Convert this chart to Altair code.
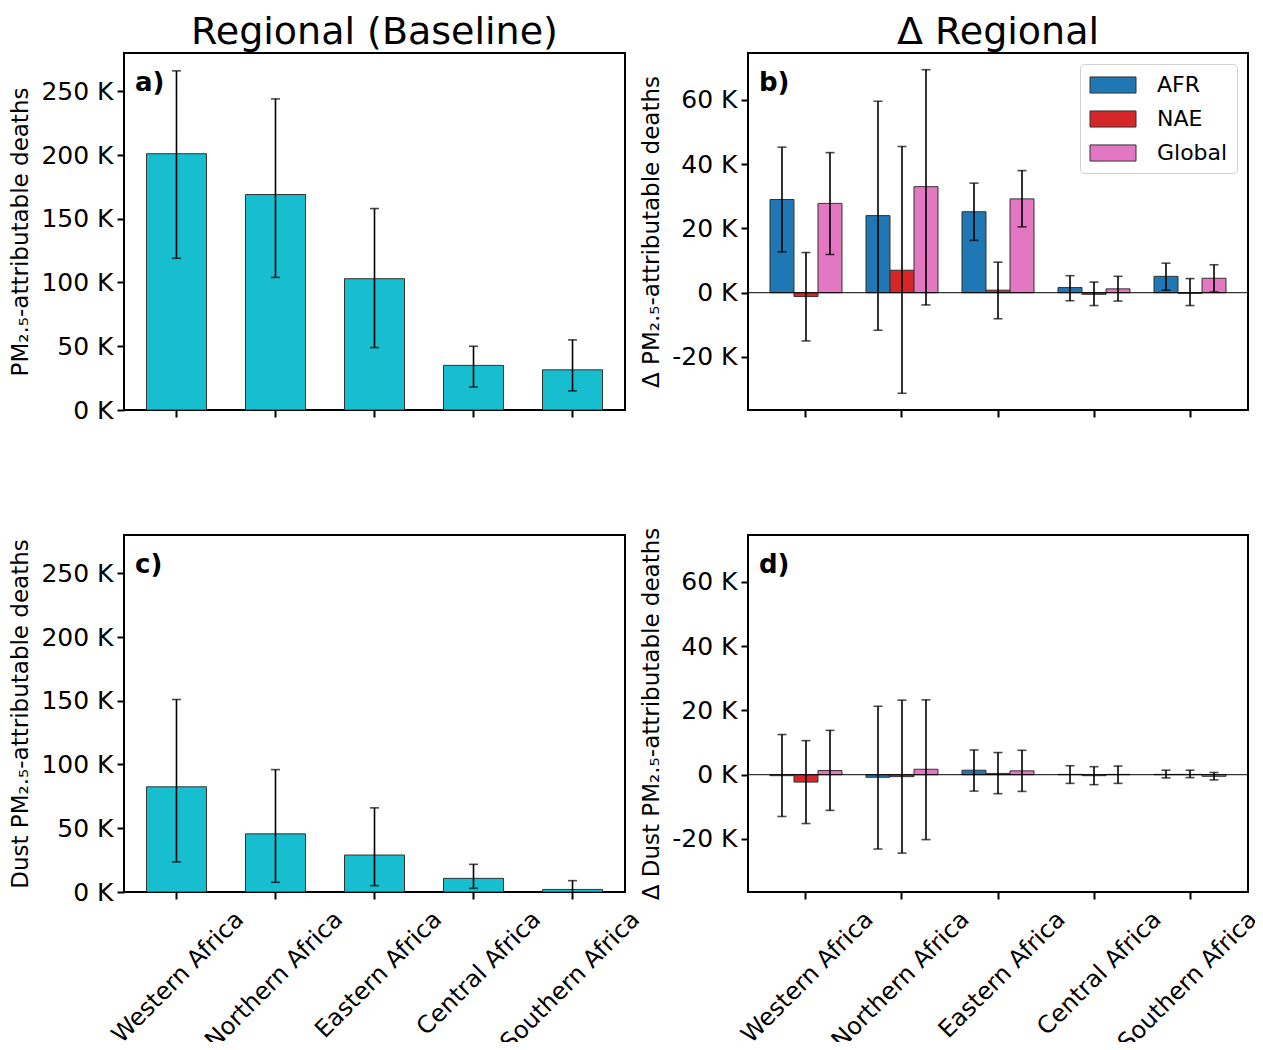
import altair as alt
import pandas as pd

FONT = "DejaVu Sans"

regions = ["Western Africa", "Northern Africa", "Eastern Africa", "Central Africa", "Southern Africa"]
series = ["AFR", "NAE", "Global"]
series_colors = ["#1f77b4", "#d62728", "#e377c2"]

# Panel a: baseline PM2.5 deaths (thousands)
base_val = [201, 169, 103, 35, 31.5]
base_lo = [119, 104, 49, 18, 15]
base_hi = [266, 244, 158, 50, 55]

# Panel c: baseline dust PM2.5 deaths (thousands)
dust_val = [82.5, 45.6, 29, 10.7, 2]
dust_lo = [23.6, 7.6, 5, 2.9, -4.9]
dust_hi = [151, 96, 66, 21.7, 8.9]

# Panel b: change in PM2.5 deaths (thousands)
d_afr = [29, 24, 25.2, 1.6, 5.1]
d_afr_lo = [12.7, -11.7, 16.3, -2.5, 0.8]
d_afr_hi = [45.3, 59.6, 34.1, 5.3, 9.2]
d_nae = [-1.2, 7, 0.8, -0.5, -0.2]
d_nae_lo = [-15, -31.3, -8.1, -4, -4]
d_nae_hi = [12.5, 45.5, 9.5, 3.3, 4.4]
d_glo = [27.8, 33, 29.2, 1.2, 4.5]
d_glo_lo = [11.9, -3.8, 20.5, -2.6, 0.2]
d_glo_hi = [43.6, 69.4, 38, 5.1, 8.7]

# Panel d: change in dust PM2.5 deaths (thousands)
dd_afr = [-0.3, -0.8, 1.4, 0.1, 0.1]
dd_afr_lo = [-13, -23.1, -5.1, -2.7, -1.0]
dd_afr_hi = [12.5, 21.3, 7.7, 2.8, 1.4]
dd_nae = [-2.3, -0.6, 0.4, -0.3, 0.1]
dd_nae_lo = [-15.2, -24.4, -5.9, -3.1, -0.9]
dd_nae_hi = [10.6, 23.2, 6.9, 2.5, 1.4]
dd_glo = [1.3, 1.7, 1.2, 0.1, -0.5]
dd_glo_lo = [-11.1, -20.2, -5.2, -2.7, -1.6]
dd_glo_hi = [13.8, 23.3, 7.6, 2.7, 0.7]

abs_ticks = [0, 50, 100, 150, 200, 250]
abs_domain = [0, 280]
delta_ticks = [-20, 0, 20, 40, 60]
delta_domain = [-36.5, 74.6]

W_A, W_B, H = 501, 500, 357


def xaxis(show):
    if show:
        return alt.Axis(title=None, labels=True, labelAngle=315, labelAlign="right",
                        labelBaseline="top", labelOffset=55, labelPadding=8,
                        labelFontSize=24, labelFont=FONT, labelColor="black",
                        labelLimit=400, labelOverlap=False, labelBound=False,
                        ticks=True, tickSize=7, tickWidth=2, tickColor="black",
                        domain=False)
    return alt.Axis(title=None, labels=False, ticks=True, tickSize=7, tickWidth=2,
                    tickColor="black", domain=False)


def yaxis(title, values):
    return alt.Axis(title=title, values=values, labelExpr="datum.value + ' K'",
                    labelFontSize=25, labelFont=FONT, labelColor="black",
                    titleFontSize=23, titleFont=FONT, titleFontWeight="normal",
                    titleColor="black", titlePadding=8, labelPadding=4,
                    tickSize=7, tickWidth=2, tickColor="black", grid=False, domain=False)


def label_layer(txt):
    return alt.Chart(pd.DataFrame({"t": [txt]})).mark_text(
        align="left", baseline="middle", font=FONT, fontSize=26, fontWeight="bold",
        color="black").encode(x=alt.value(11), y=alt.value(30), text="t:N")


def col_title(text):
    return alt.Title(text, fontSize=38, font=FONT, fontWeight="normal",
                     color="black", offset=1)


def single_panel(vals, lo, hi, label, ytitle, show_x, title=None):
    df = pd.DataFrame({"region": regions, "val": vals, "lo": lo, "hi": hi})
    x = alt.X("region:N", sort=regions,
              scale=alt.Scale(paddingInner=0.394, paddingOuter=0.227), axis=xaxis(show_x))
    ys = alt.Scale(domain=abs_domain, nice=False, zero=False)
    bars = alt.Chart(df).mark_bar(color="#17becf", stroke="#333333", strokeWidth=1,
                                  clip=True).encode(
        x=x, y=alt.Y("val:Q", scale=ys, axis=yaxis(ytitle, abs_ticks)))
    err = alt.Chart(df).mark_rule(color="black", strokeWidth=1.6, clip=True).encode(
        x=x, y=alt.Y("lo:Q", scale=ys), y2="hi:Q")
    caps = alt.Chart(df).transform_fold(["lo", "hi"]).mark_tick(
        color="black", size=9, thickness=1.6, clip=True).encode(
        x=x, y=alt.Y("value:Q", scale=ys))
    ch = alt.layer(bars, err, caps, label_layer(label)).properties(width=W_A, height=H)
    if title:
        ch = ch.properties(title=col_title(title))
    return ch


def group_panel(vals, los, his, label, ytitle, show_x, legend, title=None):
    rows = []
    for s, v, l, h in zip(series, vals, los, his):
        for r, vv, ll, hh in zip(regions, v, l, h):
            rows.append({"region": r, "series": s, "val": vv, "lo": ll, "hi": hh})
    df = pd.DataFrame(rows)
    x = alt.X("region:N", sort=regions,
              scale=alt.Scale(paddingInner=0.25, paddingOuter=0.229), axis=xaxis(show_x))
    xo = alt.XOffset("series:N", sort=series,
                     scale=alt.Scale(paddingInner=0, paddingOuter=0))
    ys = alt.Scale(domain=delta_domain, nice=False, zero=False)
    if legend:
        leg = alt.Legend(title=None, orient="top-right", offset=11,
                         symbolType="M-2,-0.7H2V0.7H-2Z", symbolSize=529,
                         symbolStrokeColor="#333333", symbolStrokeWidth=1,
                         symbolOffset=12, labelOffset=32,
                         labelFontSize=22, labelFont=FONT, labelColor="black",
                         rowPadding=11, padding=9, strokeColor="#d0d0d0",
                         cornerRadius=4, fillColor="white")
    else:
        leg = None
    color = alt.Color("series:N", sort=series,
                      scale=alt.Scale(domain=series, range=series_colors), legend=leg)
    bars = alt.Chart(df).mark_bar(stroke="#333333", strokeWidth=1, clip=True).encode(
        x=x, xOffset=xo, y=alt.Y("val:Q", scale=ys, axis=yaxis(ytitle, delta_ticks)),
        color=color)
    zero = alt.Chart(pd.DataFrame({"z": [0]})).mark_rule(color="black", strokeWidth=1).encode(
        y=alt.Y("z:Q", scale=ys))
    err = alt.Chart(df).mark_rule(color="black", strokeWidth=1.6, clip=True).encode(
        x=x, xOffset=xo, y=alt.Y("lo:Q", scale=ys), y2="hi:Q")
    caps = alt.Chart(df).transform_fold(["lo", "hi"]).mark_tick(
        color="black", size=9, thickness=1.6, clip=True).encode(
        x=x, xOffset=xo, y=alt.Y("value:Q", scale=ys))
    ch = alt.layer(bars, zero, err, caps, label_layer(label)).properties(width=W_B, height=H)
    if title:
        ch = ch.properties(title=col_title(title))
    return ch


pa = single_panel(base_val, base_lo, base_hi, "a)", "PM₂.₅-attributable deaths", False,
                  "Regional (Baseline)")
pc = single_panel(dust_val, dust_lo, dust_hi, "c)", "Dust PM₂.₅-attributable deaths", True)
pb = group_panel([d_afr, d_nae, d_glo], [d_afr_lo, d_nae_lo, d_glo_lo],
                 [d_afr_hi, d_nae_hi, d_glo_hi], "b)", "Δ PM₂.₅-attributable deaths",
                 False, True, "Δ Regional")
pd_ = group_panel([dd_afr, dd_nae, dd_glo], [dd_afr_lo, dd_nae_lo, dd_glo_lo],
                  [dd_afr_hi, dd_nae_hi, dd_glo_hi], "d)",
                  "Δ Dust PM₂.₅-attributable deaths", True, False)

L = 116
T = 45
chart = alt.concat(pa, pb, pc, pd_, columns=2, bounds="flush",
                   spacing={"row": 125, "column": 123}).resolve_scale(
    color="independent").resolve_legend(color="independent").properties(
    autosize=alt.AutoSizeParams(type="none"),
    padding={"left": L, "top": T, "right": 1247 - L, "bottom": 1034 - T},
    background="white",
).configure_view(stroke="black", strokeWidth=2)

chart.save("out.html", embed_options={"renderer": "svg", "actions": False})
